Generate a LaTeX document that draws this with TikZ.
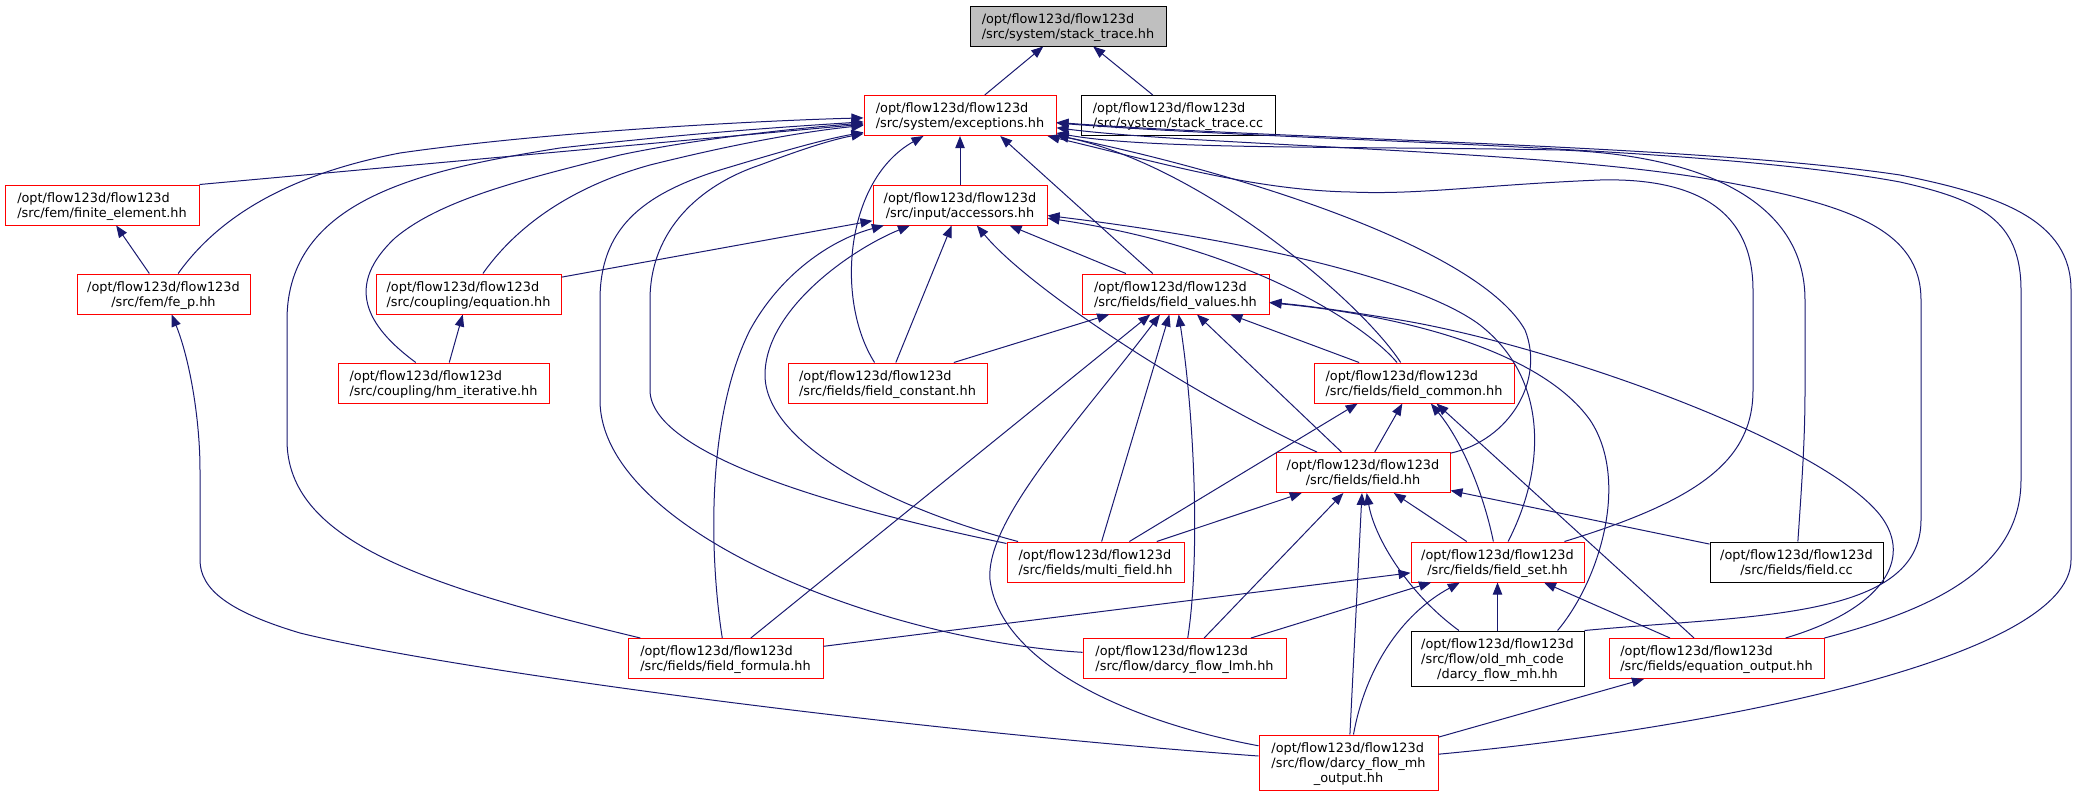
\documentclass[tikz,border=0pt]{standalone}
\usepackage{fontspec}
\setmainfont{DejaVu Sans}
\usetikzlibrary{arrows.meta}
\definecolor{edgeblue}{HTML}{191970}
\definecolor{rootgray}{HTML}{BFBFBF}
\newcommand{\flab}[2]{\raisebox{-1.4pt}[\height][\depth]{\begin{tabular}{@{}l@{}}#1\\\multicolumn{1}{@{}c@{}}{#2}\end{tabular}}}
\tikzset{
  file/.style={draw=red, line width=0.75pt, inner sep=0pt, minimum height=30pt,
    font=\fontsize{9.65}{11.25}\selectfont},
  plain/.style={file, draw=black},
  root/.style={file, draw=black, fill=rootgray},
  boxw/.style={minimum width=#1*0.75pt},
  tall/.style={minimum height=41.25pt},
  incl/.style={edgeblue, line width=0.75pt, -{Triangle[length=9pt,width=7pt]}}
}
\begin{document}
\begin{tikzpicture}[x=0.75pt, y=-0.75pt]
      \useasboundingbox (0,0) rectangle (2078,796);
      \draw
        (1068,26) node[root, boxw=196] (sth) {\flab{/opt/flow123d/flow123d}{/src/system/stack\_trace.hh}}
        (960,115.5) node[file, boxw=192] (exc) {\flab{/opt/flow123d/flow123d}{/src/system/exceptions.hh}}
        (1178,115.5) node[plain, boxw=194] (stcc) {\flab{/opt/flow123d/flow123d}{/src/system/stack\_trace.cc}}
        (102,205) node[file, boxw=194] (fe) {\flab{/opt/flow123d/flow123d}{/src/fem/finite\_element.hh}}
        (163.5,294) node[file, boxw=173] (fep) {\flab{/opt/flow123d/flow123d}{/src/fem/fe\_p.hh}}
        (960,205) node[file, boxw=174] (acc) {\flab{/opt/flow123d/flow123d}{/src/input/accessors.hh}}
        (468.5,294) node[file, boxw=185] (eq) {\flab{/opt/flow123d/flow123d}{/src/coupling/equation.hh}}
        (443.5,383) node[file, boxw=211] (hm) {\flab{/opt/flow123d/flow123d}{/src/coupling/hm\_iterative.hh}}
        (1175.5,294) node[file, boxw=187] (fv) {\flab{/opt/flow123d/flow123d}{/src/fields/field\_values.hh}}
        (887.5,383) node[file, boxw=199] (fc) {\flab{/opt/flow123d/flow123d}{/src/fields/field\_constant.hh}}
        (1414,383) node[file, boxw=200] (fcm) {\flab{/opt/flow123d/flow123d}{/src/fields/field\_common.hh}}
        (1363,472.5) node[file, boxw=174] (fld) {\flab{/opt/flow123d/flow123d}{/src/fields/field.hh}}
        (1095.5,562) node[file, boxw=177] (mf) {\flab{/opt/flow123d/flow123d}{/src/fields/multi\_field.hh}}
        (1497.5,562) node[file, boxw=173] (fs) {\flab{/opt/flow123d/flow123d}{/src/fields/field\_set.hh}}
        (1796.5,562) node[plain, boxw=173] (fcc) {\flab{/opt/flow123d/flow123d}{/src/fields/field.cc}}
        (725.5,658.5) node[file, boxw=195] (ff) {\flab{/opt/flow123d/flow123d}{/src/fields/field\_formula.hh}}
        (1184.5,658.5) node[file, boxw=203] (lmh) {\flab{/opt/flow123d/flow123d}{/src/flow/darcy\_flow\_lmh.hh}}
        (1497.5,658.5) node[plain, tall, boxw=173] (omh) {\flab{/opt/flow123d/flow123d\\/src/flow/old\_mh\_code}{/darcy\_flow\_mh.hh}}
        (1716.5,658.5) node[file, boxw=215] (eo) {\flab{/opt/flow123d/flow123d}{/src/fields/equation\_output.hh}}
        (1348.5,762.5) node[file, tall, boxw=179] (mho) {\flab{/opt/flow123d/flow123d\\/src/flow/darcy\_flow\_mh}{\_output.hh}};
      \begin{scope}[incl]
        \draw (exc) -- (sth);
        \draw (stcc) -- (sth);
        \draw (fe.north east) -- (exc);
        \draw (fep) .. controls (215,222) and (280,176) .. (400,153) .. controls (560,130) and (780,120) .. (exc);
        \draw (acc) -- (exc);
        \draw (eq) .. controls (510,235) and (560,190) .. (650,165) .. controls (730,145) and (800,132) .. (exc);
        \draw (hm) .. controls (365,325) and (345,285) .. (395,238) .. controls (440,200) and (520,180) .. (620,155) .. controls (700,138) and (800,128) .. (exc);
        \draw (fv) -- (exc.-27);
        \draw (fc) .. controls (835,300) and (845,180) .. (exc);
        \draw (fcm) .. controls (1360,300) and (1200,165) .. (exc);
        \draw (fld) .. controls (1510,440) and (1545,380) .. (1525,330) .. controls (1480,250) and (1250,175) .. (exc);
        \draw (mf) .. controls (870,515) and (650,460) .. (650,390) -- (650,300) .. controls (650,230) and (700,185) .. (760,165) .. controls (800,150) and (830,140) .. (exc);
        \draw (fs) .. controls (1700,500) and (1753,460) .. (1753,390) -- (1753,290) .. controls (1753,200) and (1680,178) .. (1600,180) .. controls (1480,185) and (1420,195) .. (1350,192) .. controls (1250,190) and (1150,160) .. (exc);
        \draw (fcc) .. controls (1802,480) and (1805,440) .. (1805,390) -- (1805,300) .. controls (1805,200) and (1700,155) .. (1560,150) .. controls (1350,146) and (1150,150) .. (exc);
        \draw (ff) .. controls (420,585) and (287,540) .. (287,440) -- (287,320) .. controls (287,200) and (420,170) .. (560,148) .. controls (700,132) and (800,126) .. (exc);
        \draw (lmh) .. controls (880,640) and (600,530) .. (600,400) -- (600,300) .. controls (600,230) and (640,195) .. (720,170) .. controls (770,155) and (820,140) .. (exc);
        \draw (omh.north east) .. controls (1750,615) and (1921,620) .. (1921,520) -- (1921,300) .. controls (1921,230) and (1850,205) .. (1725,182) .. controls (1560,150) and (1200,146) .. (exc);
        \draw (eo.north east) .. controls (1930,610) and (2021,570) .. (2021,480) -- (2021,290) .. controls (2021,220) and (1980,200) .. (1900,182) .. controls (1700,145) and (1300,142) .. (exc);
        \draw (mho) .. controls (1700,730) and (2071,660) .. (2071,560) -- (2071,290) .. controls (2071,220) and (2000,195) .. (1900,175) .. controls (1700,145) and (1300,140) .. (exc);
        \draw (fep) -- (fe);
        \draw (eq) -- (acc);
        \draw (ff) .. controls (710,560) and (705,420) .. (750,330) .. controls (780,275) and (830,240) .. (acc);
        \draw (mf) .. controls (880,505) and (765,440) .. (765,375) .. controls (765,310) and (850,250) .. (acc);
        \draw (fc) -- (acc);
        \draw (fld) .. controls (1200,400) and (1030,290) .. (acc);
        \draw (fv) -- (acc);
        \draw (fcm) .. controls (1370,330) and (1260,250) .. (acc);
        \draw (fs) .. controls (1545,470) and (1550,380) .. (1480,325) .. controls (1420,280) and (1250,240) .. (acc);
        \draw (hm) -- (eq);
        \draw (fc) -- (fv);
        \draw (ff) -- (fv);
        \draw (mho) .. controls (1120,720) and (1000,660) .. (990,580) .. controls (985,520) and (1080,420) .. (fv);
        \draw (mf) -- (fv);
        \draw (lmh) .. controls (1200,560) and (1195,420) .. (fv);
        \draw (fld) -- (fv);
        \draw (fcm) -- (fv);
        \draw (omh.25) .. controls (1600,580) and (1630,480) .. (1590,420) .. controls (1540,350) and (1400,315) .. (fv);
        \draw (eo) .. controls (1880,610) and (1915,560) .. (1880,515) .. controls (1820,440) and (1550,345) .. (1400,320) .. controls (1340,310) and (1300,305) .. (fv);
        \draw (mf) -- (fcm.200);
        \draw (fld) -- (fcm);
        \draw (fs) .. controls (1485,500) and (1465,445) .. (fcm);
        \draw (eo) -- (fcm);
        \draw (mf) -- (fld);
        \draw (lmh) -- (fld);
        \draw (mho) -- (fld);
        \draw (omh) .. controls (1410,595) and (1375,540) .. (fld);
        \draw (fs) -- (fld);
        \draw (fcc) -- (fld);
        \draw (ff) -- (fs);
        \draw (lmh) -- (fs);
        \draw (mho) .. controls (1365,670) and (1400,615) .. (fs);
        \draw (omh) -- (fs);
        \draw (eo) -- (fs);
        \draw (mho) -- (eo);
        \draw (mho) .. controls (900,730) and (450,670) .. (300,633) .. controls (230,612) and (200,590) .. (200,560) -- (200,470) .. controls (200,420) and (190,360) .. (fep);
      \end{scope}
    \end{tikzpicture}
\end{document}
